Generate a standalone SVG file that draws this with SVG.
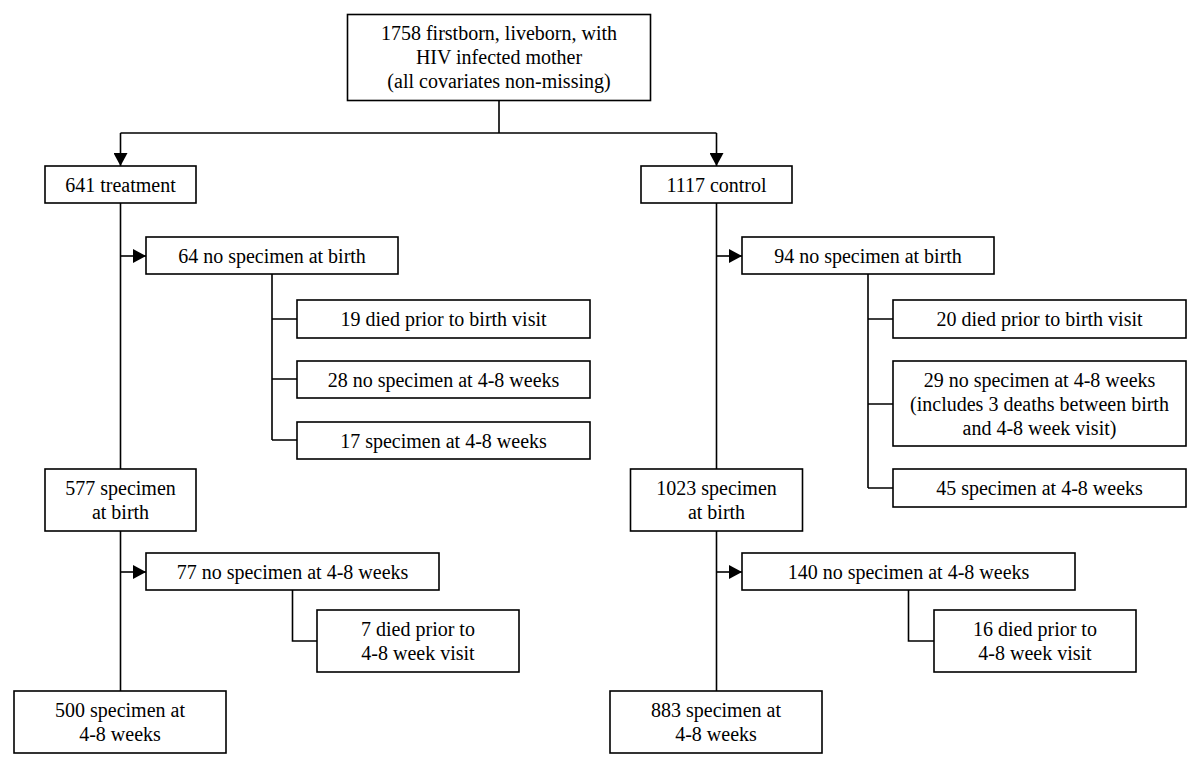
<svg xmlns="http://www.w3.org/2000/svg" width="1200" height="776" viewBox="0 0 1200 776">
<style>
.box{fill:#fff;stroke:#000;stroke-width:1.6}
.ln{fill:none;stroke:#000;stroke-width:1.6}
.t{font-family:'Liberation Serif','Times New Roman',serif;font-size:20px;fill:#000;text-anchor:middle}
</style>
<defs>
<marker id="ah" markerUnits="userSpaceOnUse" markerWidth="13" markerHeight="14" refX="13" refY="7" orient="auto">
<path d="M0,0 L13,7 L0,14 z" fill="#000"/>
</marker>
</defs>
<rect width="1200" height="776" fill="#fff"/>
<g id="connectors">
<path class="ln" d="M499,100 V133 M120.5,133 H716.5"/>
<path class="ln" d="M120.5,133 V166" marker-end="url(#ah)"/>
<path class="ln" d="M716.5,133 V166" marker-end="url(#ah)"/>
<path class="ln" d="M120.5,203 V469 M120.5,531 V691"/>
<path class="ln" d="M716.5,203 V469 M716.5,531 V691"/>
<path class="ln" d="M120.5,256 H146" marker-end="url(#ah)"/>
<path class="ln" d="M120.5,572 H146" marker-end="url(#ah)"/>
<path class="ln" d="M716.5,256 H742" marker-end="url(#ah)"/>
<path class="ln" d="M716.5,572 H742" marker-end="url(#ah)"/>
<path class="ln" d="M272,274 V440 M272,319 H297 M272,379 H297 M272,440 H297"/>
<path class="ln" d="M868,274 V488 M868,319 H893 M868,404 H893 M868,488 H893"/>
<path class="ln" d="M292.5,590 V641 H317"/>
<path class="ln" d="M908.5,590 V641 H934"/>
</g>
<g id="n_top"><rect class="box" x="347.5" y="14.5" width="303" height="86"/>
<text class="t" x="499" y="40">1758 firstborn, liveborn, with</text>
<text class="t" x="499" y="64">HIV infected mother</text>
<text class="t" x="499" y="88">(all covariates non-missing)</text></g>
<g id="n_treat"><rect class="box" x="45" y="166" width="151" height="37"/><text class="t" x="120.5" y="191.5">641 treatment</text></g>
<g id="n_t_nobirth"><rect class="box" x="146" y="237" width="252" height="37"/><text class="t" x="272" y="262.5">64 no specimen at birth</text></g>
<g id="n_t_died"><rect class="box" x="297" y="300" width="293" height="38"/><text class="t" x="443.5" y="326">19 died prior to birth visit</text></g>
<g id="n_t_no48"><rect class="box" x="297" y="361" width="293" height="37"/><text class="t" x="443.5" y="386.5">28 no specimen at 4-8 weeks</text></g>
<g id="n_t_spec48"><rect class="box" x="297" y="422" width="293" height="37"/><text class="t" x="443.5" y="447.5">17 specimen at 4-8 weeks</text></g>
<g id="n_t_birth"><rect class="box" x="45" y="469" width="151" height="62"/><text class="t" x="120.5" y="495">577 specimen</text><text class="t" x="120.5" y="519">at birth</text></g>
<g id="n_t_no48b"><rect class="box" x="146" y="553" width="293" height="37"/><text class="t" x="292.5" y="578.5">77 no specimen at 4-8 weeks</text></g>
<g id="n_t_died48"><rect class="box" x="317" y="610" width="202" height="62"/><text class="t" x="418" y="636">7 died prior to</text><text class="t" x="418" y="660">4-8 week visit</text></g>
<g id="n_t_final"><rect class="box" x="14" y="691" width="212" height="62"/><text class="t" x="120" y="717">500 specimen at</text><text class="t" x="120" y="741">4-8 weeks</text></g>
<g id="n_ctrl"><rect class="box" x="641" y="166" width="151" height="37"/><text class="t" x="716.5" y="191.5">1117 control</text></g>
<g id="n_c_nobirth"><rect class="box" x="742" y="237" width="252" height="37"/><text class="t" x="868" y="262.5">94 no specimen at birth</text></g>
<g id="n_c_died"><rect class="box" x="893" y="300" width="293" height="38"/><text class="t" x="1039.5" y="326">20 died prior to birth visit</text></g>
<g id="n_c_no48"><rect class="box" x="893" y="361" width="293" height="85"/>
<text class="t" x="1039.5" y="386.5">29 no specimen at 4-8 weeks</text>
<text class="t" x="1039.5" y="410.5">(includes 3 deaths between birth</text>
<text class="t" x="1039.5" y="434.5">and 4-8 week visit)</text></g>
<g id="n_c_spec48"><rect class="box" x="893" y="469" width="293" height="38"/><text class="t" x="1039.5" y="495">45 specimen at 4-8 weeks</text></g>
<g id="n_c_birth"><rect class="box" x="630.5" y="469" width="172" height="62"/><text class="t" x="716.5" y="495">1023 specimen</text><text class="t" x="716.5" y="519">at birth</text></g>
<g id="n_c_no48b"><rect class="box" x="742" y="553" width="333" height="37"/><text class="t" x="908.5" y="578.5">140 no specimen at 4-8 weeks</text></g>
<g id="n_c_died48"><rect class="box" x="934" y="610" width="202" height="62"/><text class="t" x="1035" y="636">16 died prior to</text><text class="t" x="1035" y="660">4-8 week visit</text></g>
<g id="n_c_final"><rect class="box" x="610" y="691" width="212" height="62"/><text class="t" x="716" y="717">883 specimen at</text><text class="t" x="716" y="741">4-8 weeks</text></g>
</svg>
